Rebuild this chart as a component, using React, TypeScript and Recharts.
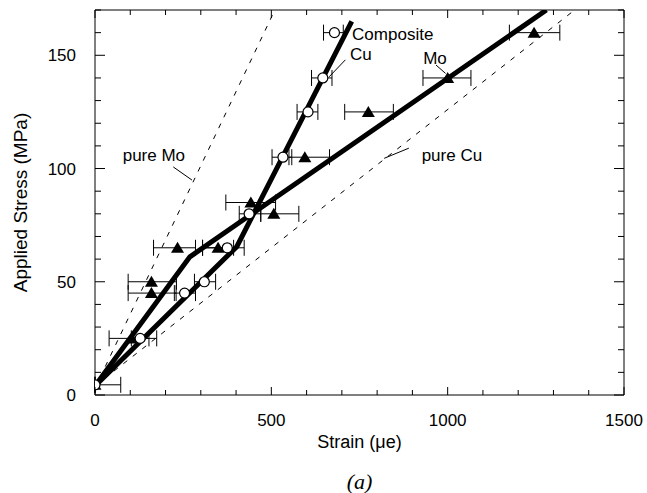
import React from 'react';
import { ComposedChart, Scatter, XAxis, YAxis, ErrorBar, ReferenceLine, ReferenceDot, Label } from 'recharts';

const FONT = '"Liberation Sans", Arial, sans-serif';

const strainTicks = [0, 100, 200, 300, 400, 500, 600, 700, 800, 900, 1000, 1100, 1200, 1300, 1400, 1500];
const stressTicks = [0, 10, 20, 30, 40, 50, 60, 70, 80, 90, 100, 110, 120, 130, 140, 150, 160, 170];
const strainLabels = [0, 500, 1000, 1500];
const stressLabels = [0, 50, 100, 150];

// composite Cu - open circles, with strain scatter
const cuStrain = [0, 128, 254, 310, 375, 437, 533, 604, 646, 679];
const cuStress = [4.5, 25, 45, 50, 65, 80, 105, 125, 140, 160];
const cuErrLow = [0, 25, 29, 28, 70, 28, 31, 31, 32, 31];
const cuErrHigh = [73, 25, 31, 32, 48, 33, 25, 28, 26, 25];

// composite Mo - filled triangles
const moStrain = [0, 105, 160, 160, 234, 349, 442, 507, 595, 775, 1000, 1245];
const moStress = [4.5, 25, 45, 50, 65, 65, 85, 80, 105, 125, 140, 160];
const moErrLow = [0, 65, 66, 66, 68, 44, 71, 37, 45, 67, 70, 70];
const moErrHigh = [0, 70, 70, 71, 51, 44, 70, 71, 70, 71, 66, 73];

// model lines
const cuFitStrain = [0, 402, 728];
const cuFitStress = [4, 65.5, 165];
const moFitStrain = [0, 269, 1280];
const moFitStress = [4, 61, 170];
const pureMoStrain = [0, 510];
const pureMoStress = [3, 170];
const pureCuStrain = [0, 1360];
const pureCuStress = [4, 170];

const toRows = (xs: number[], ys: number[], lo?: number[], hi?: number[]) =>
  xs.map((x, i) => ({ x, y: ys[i], err: lo && hi ? [lo[i], hi[i]] : undefined }));

const cuPoints = toRows(cuStrain, cuStress, cuErrLow, cuErrHigh);
const moPoints = toRows(moStrain, moStress, moErrLow, moErrHigh);
const cuFit = toRows(cuFitStrain, cuFitStress);
const moFit = toRows(moFitStrain, moFitStress);
const pureMo = toRows(pureMoStrain, pureMoStress);
const pureCu = toRows(pureCuStrain, pureCuStress);

const Nothing = () => <g />;

const Circle = (props: any) => (
  <circle cx={props.cx} cy={props.cy} r={5} fill="#fff" stroke="#000" strokeWidth={1.2} />
);

const Triangle = (props: any) => {
  const { cx, cy } = props;
  return <path d={`M${cx},${cy - 6}L${cx + 6.5},${cy + 5}L${cx - 6.5},${cy + 5}Z`} fill="#000" />;
};

const BottomTick = (props: any) => {
  const { x, y, payload } = props;
  const major = strainLabels.includes(payload.value);
  return (
    <g>
      <line x1={x} y1={y} x2={x} y2={y - (major ? 8 : 5)} stroke="#000" />
      {major && (
        <text x={x} y={y + 31} textAnchor="middle" fontSize={17} fill="#000" fontFamily={FONT}>
          {payload.value}
        </text>
      )}
    </g>
  );
};

const TopTick = (props: any) => {
  const { x, y, payload } = props;
  const major = strainLabels.includes(payload.value);
  return <line x1={x} y1={y} x2={x} y2={y + (major ? 8 : 5)} stroke="#000" />;
};

const LeftTick = (props: any) => {
  const { x, y, payload } = props;
  const major = stressLabels.includes(payload.value);
  return (
    <g>
      <line x1={x} y1={y} x2={x + (major ? 10 : 6)} y2={y} stroke="#000" />
      {major && (
        <text x={x - 19} y={y + 6} textAnchor="end" fontSize={17} fill="#000" fontFamily={FONT}>
          {payload.value}
        </text>
      )}
    </g>
  );
};

const RightTick = (props: any) => {
  const { x, y, payload } = props;
  const major = stressLabels.includes(payload.value);
  return <line x1={x} y1={y} x2={x - (major ? 10 : 6)} y2={y} stroke="#000" />;
};

const note = { fill: '#000', fontSize: 17, fontFamily: FONT };

export default function App() {
  return (
    <div style={{ position: 'absolute', left: 0, top: 0, background: '#fff' }}>
      <ComposedChart width={647} height={493} margin={{ top: 9, right: 22, bottom: 3, left: 0 }}>
        <XAxis
          xAxisId="b"
          type="number"
          dataKey="x"
          domain={[0, 1500]}
          allowDataOverflow
          ticks={strainTicks}
          interval={0}
          height={95}
          tickSize={0}
          tickMargin={0}
          tickLine={false}
          axisLine={{ stroke: '#000' }}
          tick={(p: any) => <BottomTick {...p} />}
          label={{ value: 'Strain (\u03bce)', position: 'insideBottom', offset: 42, fill: '#000', fontSize: 18, fontFamily: FONT }}
        >
          <Label value="(a)" position="insideBottom" offset={1} fill="#000" fontSize={22} fontStyle="italic" fontFamily='"Liberation Serif", "Times New Roman", serif' />
        </XAxis>
        <XAxis
          xAxisId="t"
          orientation="top"
          type="number"
          dataKey="x"
          domain={[0, 1500]}
          allowDataOverflow
          ticks={strainTicks}
          interval={0}
          height={1}
          tickSize={0}
          tickMargin={0}
          tickLine={false}
          axisLine={{ stroke: '#000' }}
          tick={(p: any) => <TopTick {...p} />}
        />
        <YAxis
          yAxisId="l"
          type="number"
          dataKey="y"
          domain={[0, 170]}
          allowDataOverflow
          ticks={stressTicks}
          interval={0}
          width={95}
          tickSize={0}
          tickMargin={0}
          tickLine={false}
          axisLine={{ stroke: '#000' }}
          tick={(p: any) => <LeftTick {...p} />}
          label={{ value: 'Applied Stress (MPa)', angle: -90, position: 'insideLeft', offset: 20, style: { textAnchor: 'middle' }, fill: '#000', fontSize: 19, fontFamily: FONT }}
        />
        <YAxis
          yAxisId="r"
          orientation="right"
          type="number"
          dataKey="y"
          domain={[0, 170]}
          allowDataOverflow
          ticks={stressTicks}
          interval={0}
          width={1}
          tickSize={0}
          tickMargin={0}
          tickLine={false}
          axisLine={{ stroke: '#000' }}
          tick={(p: any) => <RightTick {...p} />}
        />

        <Scatter xAxisId="b" yAxisId="l" data={pureMo} line={{ stroke: '#000', strokeWidth: 1, strokeDasharray: '5 7' }} shape={Nothing} isAnimationActive={false} />
        <Scatter xAxisId="b" yAxisId="l" data={pureCu} line={{ stroke: '#000', strokeWidth: 1, strokeDasharray: '5 7' }} shape={Nothing} isAnimationActive={false} />
        <Scatter xAxisId="b" yAxisId="l" data={cuFit} line={{ stroke: '#000', strokeWidth: 5 }} shape={Nothing} isAnimationActive={false} />
        <Scatter xAxisId="b" yAxisId="l" data={moFit} line={{ stroke: '#000', strokeWidth: 5 }} shape={Nothing} isAnimationActive={false} />

        <Scatter xAxisId="b" yAxisId="l" data={moPoints} shape={Triangle} isAnimationActive={false}>
          <ErrorBar dataKey="err" direction="x" width={8} stroke="#000" strokeWidth={1} />
        </Scatter>
        <Scatter xAxisId="b" yAxisId="l" data={cuPoints} shape={Circle} isAnimationActive={false}>
          <ErrorBar dataKey="err" direction="x" width={8} stroke="#000" strokeWidth={1} />
        </Scatter>

        <ReferenceLine xAxisId="b" yAxisId="l" segment={[{ x: 710, y: 148 }, { x: 664, y: 140.5 }]} stroke="#000" strokeWidth={1} />
        <ReferenceLine xAxisId="b" yAxisId="l" segment={[{ x: 967, y: 145.7 }, { x: 994, y: 142 }]} stroke="#000" strokeWidth={1} />
        <ReferenceLine xAxisId="b" yAxisId="l" segment={[{ x: 222, y: 100.7 }, { x: 275, y: 94.9 }]} stroke="#000" strokeWidth={1} />
        <ReferenceLine xAxisId="b" yAxisId="l" segment={[{ x: 820, y: 104.5 }, { x: 890, y: 109 }]} stroke="#000" strokeWidth={1} />

        <ReferenceDot xAxisId="b" yAxisId="l" x={729} y={159.4} r={0} label={{ value: 'Composite', position: 'right', offset: 0, ...note }} />
        <ReferenceDot xAxisId="b" yAxisId="l" x={723} y={150.6} r={0} label={{ value: 'Cu', position: 'right', offset: 0, ...note }} />
        <ReferenceDot xAxisId="b" yAxisId="l" x={964} y={148.8} r={0} label={{ value: 'Mo', position: 'center', ...note }} />
        <ReferenceDot xAxisId="b" yAxisId="l" x={167} y={106} r={0} label={{ value: 'pure Mo', position: 'center', ...note }} />
        <ReferenceDot xAxisId="b" yAxisId="l" x={1012} y={106} r={0} label={{ value: 'pure Cu', position: 'center', ...note }} />
      </ComposedChart>
    </div>
  );
}
